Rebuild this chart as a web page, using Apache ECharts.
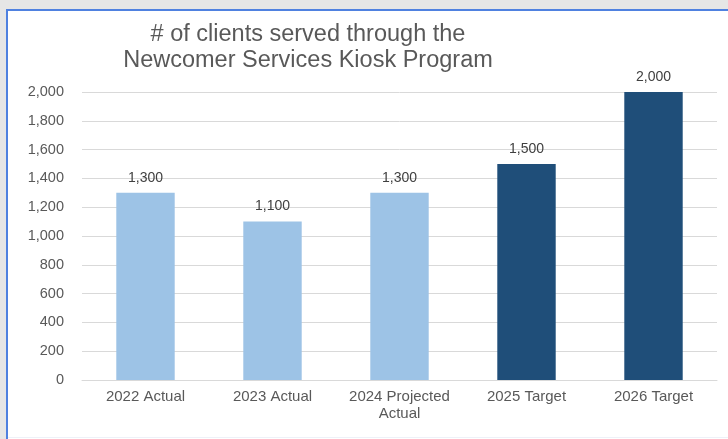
<!DOCTYPE html>
<html>
<head>
<meta charset="utf-8">
<script src="https://cdn.jsdelivr.net/npm/echarts@6/dist/echarts.min.js"></script>
<style>
html,body{margin:0;padding:0;background:#fff;}
#chart{width:728px;height:439px;}
</style>
</head>
<body>
<div id="chart"></div>
<script>
var categories = ['2022 Actual', '2023 Actual', '2024 Projected\nActual', '2025 Target', '2026 Target'];
var values = [1300, 1100, 1300, 1500, 2000];
var barColors = ['#9dc3e6', '#9dc3e6', '#9dc3e6', '#1f4e79', '#1f4e79'];
var titleText = '# of clients served through the\nNewcomer Services Kiosk Program';

var chart = echarts.init(document.getElementById('chart'), null, {renderer: 'canvas'});
var font = '"Liberation Sans", Arial, sans-serif';
chart.setOption({
  animation: false,
  backgroundColor: '#ffffff',
  textStyle: {fontFamily: font},
  graphic: [
    {type: 'rect', shape: {x: 0, y: 0, width: 728, height: 9}, style: {fill: '#e6e6e6'}, z: 100},
    {type: 'rect', shape: {x: 0, y: 0, width: 6, height: 439}, style: {fill: '#e6e6e6'}, z: 100},
    {type: 'rect', shape: {x: 6, y: 9, width: 722, height: 2}, style: {fill: '#4f81e0'}, z: 100},
    {type: 'rect', shape: {x: 6, y: 9, width: 2, height: 430}, style: {fill: '#4f81e0'}, z: 100},
    {type: 'rect', shape: {x: 8, y: 437, width: 720, height: 1}, style: {fill: '#eef1f8'}, z: 100}
  ],
  title: {
    text: titleText,
    left: 303,
    top: 17,
    textAlign: 'center',
    textStyle: {fontFamily: font, fontSize: 23.5, fontWeight: 'normal', color: '#595959', lineHeight: 26}
  },
  grid: {left: 82, right: 11, top: 92, bottom: 59, containLabel: false},
  xAxis: {
    type: 'category',
    data: categories,
    axisLine: {lineStyle: {color: '#d9d9d9', width: 1}},
    axisTick: {show: false},
    axisLabel: {color: '#595959', fontSize: 15, fontFamily: font, margin: 8, lineHeight: 17, interval: 0}
  },
  yAxis: {
    type: 'value',
    min: 0,
    max: 2000,
    interval: 200,
    axisLine: {show: false},
    axisTick: {show: false},
    splitLine: {lineStyle: {color: '#d9d9d9', width: 1}},
    axisLabel: {
      color: '#595959', fontSize: 14.5, fontFamily: font, margin: 18,
      formatter: function (v) { return v.toLocaleString('en-US'); }
    }
  },
  series: [{
    type: 'bar',
    barWidth: '46%',
    data: values.map(function (v, i) { return {value: v, itemStyle: {color: barColors[i]}}; }),
    label: {
      show: true,
      position: 'top',
      distance: 8,
      color: '#404040',
      fontSize: 14,
      fontFamily: font,
      formatter: function (p) { return p.value.toLocaleString('en-US'); }
    }
  }]
});
</script>
</body>
</html>
